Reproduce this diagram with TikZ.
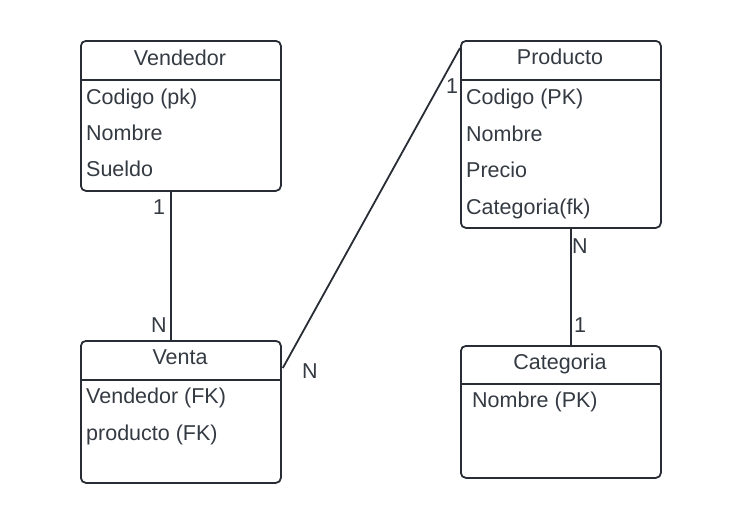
\documentclass[tikz,border=0pt]{standalone}
\usepackage{fontspec}
\setmainfont{Liberation Sans}
\usetikzlibrary{positioning, calc}

\definecolor{ink}{RGB}{40,44,52}
\definecolor{txt}{RGB}{52,58,66}

\tikzset{
    entity/.style={draw=ink, line width=1.8pt, rounded corners=5pt, anchor=north west,
        minimum width=200pt, inner sep=0pt},
    title/.style={anchor=base, text=txt, inner sep=0pt, font=\fontsize{21.5}{25}\selectfont},
    field/.style={anchor=base west, text=txt, inner sep=0pt, font=\fontsize{21.5}{25}\selectfont},
    card/.style={anchor=base, text=txt, inner sep=0pt, font=\fontsize{21.5}{25}\selectfont},
    rel/.style={draw=ink, line width=1.8pt},
}

\begin{document}
\begin{tikzpicture}[x=1pt, y=-1pt]
    \useasboundingbox (0,0) rectangle (740,522);
    % entidades
    \node [entity, minimum height=150pt] (vendedor) at (80,40) {};
    \node [entity, minimum height=187pt] (producto) at (460,40) {};
    \node [entity, minimum height=142pt] (venta) at (80,340) {};
    \node [entity, minimum height=132pt] (categoria) at (460,345) {};
    % cabeceras
    \draw [rel] (vendedor.west |- 0,80) -- (vendedor.east |- 0,80);
    \draw [rel] (producto.west |- 0,80) -- (producto.east |- 0,80);
    \draw [rel] (venta.west |- 0,380) -- (venta.east |- 0,380);
    \draw [rel] (categoria.west |- 0,384) -- (categoria.east |- 0,384);
    \node [title] (vendedor-t) at (180,65) {Vendedor};
    \node [title] (producto-t) at (560,64) {Producto};
    \node [title] (venta-t) at (180,364) {Venta};
    \node [title] (categoria-t) at (560,369) {Categoria};
    % atributos
    \foreach \f [count=\i] in {Codigo (pk), Nombre, Sueldo}
        \node [field] (vendedor-\i) at (86,68+36*\i) {\f};
    \foreach \f [count=\i] in {Codigo (PK), Nombre, Precio, Categoria(fk)}
        \node [field] (producto-\i) at (466,68+36.5*\i) {\f};
    \foreach \f [count=\i] in {Vendedor (FK), producto (FK)}
        \node [field] (venta-\i) at (86,366+37*\i) {\f};
    \node [field] (categoria-1) at (472,407) {Nombre (PK)};
    % relaciones
    \coordinate (vv-a) at ($(vendedor.south west)+(91,0)$);
    \coordinate (vv-b) at ($(venta.north west)+(91,0)$);
    \coordinate (vp-a) at ($(venta.north east)+(1,28)$);
    \coordinate (vp-b) at ($(producto.north west)+(0,8)$);
    \coordinate (pc-a) at ($(producto.south west)+(111,0)$);
    \coordinate (pc-b) at ($(categoria.north west)+(111,0)$);
    \draw [rel] (vv-a) -- (vv-b);
    \draw [rel] (vp-a) -- (vp-b);
    \draw [rel] (pc-a) -- (pc-b);
    \node [card] (vv-1) at (159,214) {1};
    \node [card] (vv-n) at (159,332) {N};
    \node [card] (vp-n) at (310,378) {N};
    \node [card] (vp-1) at (452,93) {1};
    \node [card] (pc-n) at (580,253) {N};
    \node [card] (pc-1) at (580,332) {1};
\end{tikzpicture}
\end{document}
